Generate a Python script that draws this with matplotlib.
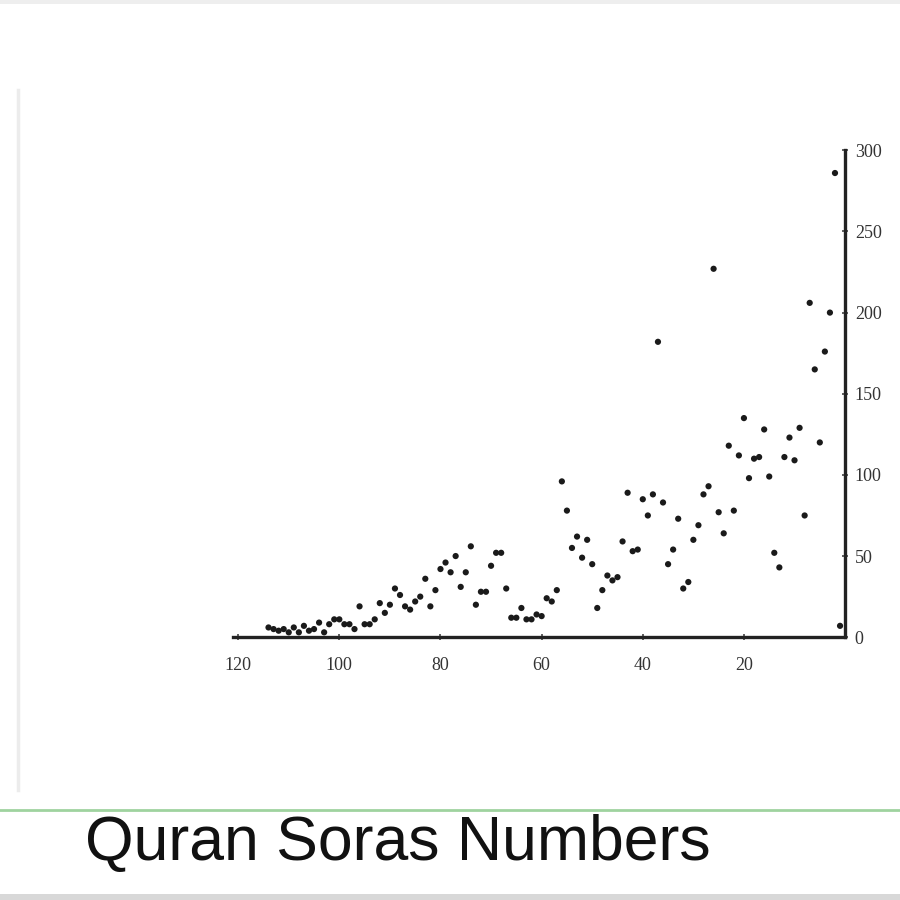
import matplotlib
matplotlib.use("Agg")
import matplotlib.pyplot as plt
from matplotlib.lines import Line2D
from matplotlib.patches import Rectangle

# Sura number and number of verses
sura = list(range(1, 115))
verses = [7, 286, 200, 176, 120, 165, 206, 75, 129, 109, 123, 111, 43, 52, 99, 128,
          111, 110, 98, 135, 112, 78, 118, 64, 77, 227, 93, 88, 69, 60, 34, 30, 73,
          54, 45, 83, 182, 88, 75, 85, 54, 53, 89, 59, 37, 35, 38, 29, 18, 45, 60,
          49, 62, 55, 78, 96, 29, 22, 24, 13, 14, 11, 11, 18, 12, 12, 30, 52, 52,
          44, 28, 28, 20, 56, 40, 31, 50, 40, 46, 42, 29, 19, 36, 25, 22, 17, 19,
          26, 30, 20, 15, 21, 11, 8, 8, 19, 5, 8, 8, 11, 11, 8, 3, 9, 5, 4, 7, 3,
          6, 3, 5, 4, 5, 6]
xticks = [120, 100, 80, 60, 40, 20]
xtick_labels = ["120", "100", "80", "60", "40", "20"]
yticks = [0, 50, 100, 150, 200, 250, 300]
title_text = "Quran Soras Numbers"

fig = plt.figure(figsize=(9, 9), dpi=100)
fig.patch.set_facecolor("white")

ax = fig.add_axes([0.259, 0.292, 0.680, 0.541])
ax.scatter(sura, verses, s=20, color="#1a1a1a", edgecolors="none", zorder=3)
ax.set_xlim(121, 0)
ax.set_ylim(0, 300)
for s in ["top", "left"]:
    ax.spines[s].set_visible(False)
for s in ["bottom", "right"]:
    ax.spines[s].set_linewidth(2.4)
    ax.spines[s].set_color("#222222")
ax.yaxis.tick_right()
ax.set_xticks(xticks)
ax.set_xticklabels(xtick_labels)
ax.set_yticks(yticks)
ax.tick_params(axis="both", direction="inout", length=4, width=1.2, color="#444444",
               labelsize=13, labelcolor="#333333")
ax.tick_params(axis="x", pad=12)
ax.tick_params(axis="y", pad=5)
for lab in ax.get_xticklabels() + ax.get_yticklabels():
    lab.set_fontfamily("Liberation Serif")
ax.set_facecolor("none")

# decorative elements of the slide
fig.add_artist(Line2D([0, 1], [1 - 810 / 900, 1 - 810 / 900], transform=fig.transFigure,
                      color="#9fd39f", linewidth=2.0))
fig.add_artist(Line2D([18 / 900, 18 / 900], [1 - 90 / 900, 1 - 790 / 900],
                      transform=fig.transFigure, color="#ececec", linewidth=2.5))
fig.add_artist(Rectangle((0, 0), 1, 6 / 900, transform=fig.transFigure,
                         color="#d8d8d8", linewidth=0))
fig.add_artist(Rectangle((0, 1 - 4 / 900), 1, 4 / 900, transform=fig.transFigure,
                         color="#eeeeee", linewidth=0))

fig.text(85 / 900, 1 - 843 / 900, title_text, fontsize=45, family="Liberation Sans",
         color="#111111", ha="left", va="center")

fig.savefig("out.png", dpi=100)
